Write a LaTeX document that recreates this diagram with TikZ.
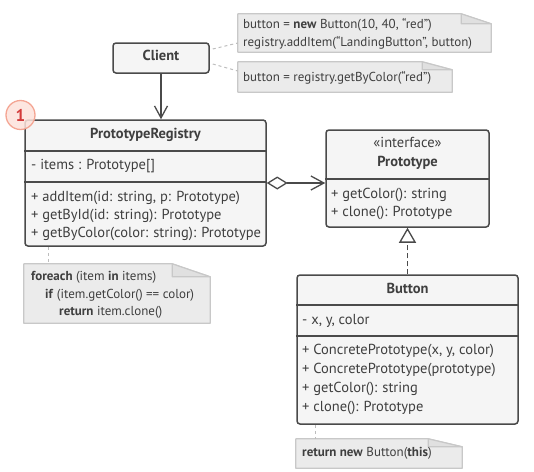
\documentclass[tikz,border=0pt]{standalone}
\usepackage{fontspec}
\setmainfont{PT Sans}
\usetikzlibrary{arrows.meta,calc}
\definecolor{boxfill}{HTML}{F5F5F5}
\definecolor{boxdraw}{HTML}{4A4A4A}
\definecolor{notefill}{HTML}{EBEBEB}
\definecolor{notedraw}{HTML}{C8C8C8}
\definecolor{foldfill}{HTML}{E0E0E0}
\definecolor{txt}{HTML}{3F3F3F}
\definecolor{linkc}{HTML}{BDBDBD}
\definecolor{badgefill}{HTML}{FDE2DA}
\definecolor{badgedraw}{HTML}{F4A593}
\definecolor{badgetext}{HTML}{D33A3A}
\newcommand\drawnote[3]{%
  \fill[notefill] (#1.north west) -- ($(#1.north east)+(-#2,0)$) -- ($(#1.north east)+(0,#3)$) -- (#1.south east) -- (#1.south west) -- cycle;
  \draw[notedraw,line width=1.2pt,line join=round] (#1.north west) -- ($(#1.north east)+(-#2,0)$) -- ($(#1.north east)+(0,#3)$) -- (#1.south east) -- (#1.south west) -- cycle;
  \filldraw[fill=foldfill,draw=notedraw,line width=1.2pt,line join=round] ($(#1.north east)+(-#2,0)$) -- ($(#1.north east)+(-#2,#3)$) -- ($(#1.north east)+(0,#3)$) -- cycle;
}
\begin{document}
\begin{tikzpicture}[x=1pt,y=-1pt,
  classbox/.style={rectangle,rounded corners=3pt,draw=boxdraw,fill=boxfill,line width=1.5pt,inner sep=0pt},
  divider/.style={draw=boxdraw,line width=1.5pt},
  ctext/.style={inner sep=0pt,anchor=mid west,text=txt,font=\fontsize{14.5}{17}\selectfont},
  ctitle/.style={inner sep=0pt,anchor=mid,text=txt,font=\fontsize{14.5}{17}\selectfont\bfseries},
  ntext/.style={inner sep=0pt,anchor=mid west,text=txt,font=\fontsize{13}{15}\selectfont},
  notebox/.style={rectangle,inner sep=0pt},
  notelink/.style={draw=linkc,line width=1pt,dash pattern=on 3pt off 3pt},
  assoc/.style={draw=boxdraw,line width=1.3pt,-{Straight Barb[length=12pt,width=13pt,line width=1.3pt]}},
  aggr/.style={draw=boxdraw,line width=1.3pt,{Diamond[open,length=21pt,width=13pt,line width=1.3pt]}-{Straight Barb[length=13pt,width=14pt,line width=1.3pt]}},
  realize/.style={draw=boxdraw,line width=1.3pt,dash pattern=on 5pt off 3pt,-{Triangle[open,length=15pt,width=17pt,line width=1.3pt]}}
]
\useasboundingbox (0,0) rectangle (534,471);

% notes
\node[notebox,minimum width=253pt,minimum height=38pt] (n1) at (364.5,33) {};
\node[notebox,minimum width=214pt,minimum height=30pt] (n2) at (345,77) {};
\node[notebox,minimum width=186pt,minimum height=59pt] (n3) at (117,293.5) {};
\node[notebox,minimum width=166pt,minimum height=29pt] (n4) at (379,453.5) {};
\drawnote{n1}{30}{10}
\drawnote{n2}{30}{8}
\drawnote{n3}{38}{13}
\drawnote{n4}{34}{8}

\node[ntext] (n1a) at (243,25.5) {button = \textbf{new} Button(10, 40, “red”)};
\node[ntext] (n1b) at (243,43.5) {registry.addItem(“LandingButton”, button)};
\node[ntext] (n2a) at (243,78.5) {button = registry.getByColor(“red”)};
\node[ntext] (n3a) at (31,278) {\textbf{foreach} (item \textbf{in} items)};
\node[ntext] (n3b) at (45,296) {\textbf{if} (item.getColor() == color)};
\node[ntext] (n3c) at (59,313) {\textbf{return} item.clone()};
\node[ntext] (n4a) at (302,454) {\textbf{return new} Button(\textbf{this})};

% classes
\node[classbox,minimum width=96pt,minimum height=30pt] (client) at (161,58) {};
\node[ctitle] (clientt) at (client) {Client};

\node[classbox,minimum width=241pt,minimum height=126pt] (reg) at (145.5,183) {};
\draw[divider] (reg.west |- 0,151) -- (reg.east |- 0,151);
\draw[divider] (reg.west |- 0,182) -- (reg.east |- 0,182);
\node[ctitle] (regt) at (145.5,136) {PrototypeRegistry};
\node[ctext] (rega) at (31,167) {- items : Prototype[]};
\node[ctext] (regm1) at (31,199) {+ addItem(id: string, p: Prototype)};
\node[ctext] (regm2) at (31,217) {+ getById(id: string): Prototype};
\node[ctext] (regm3) at (31,235) {+ getByColor(color: string): Prototype};

\node[classbox,minimum width=163pt,minimum height=97pt] (proto) at (407.5,178.5) {};
\draw[divider] (proto.west |- 0,179) -- (proto.east |- 0,179);
\node[inner sep=0pt,anchor=mid,text=txt,font=\fontsize{14.5}{17}\selectfont] (protos) at (407.5,145) {«interface»};
\node[ctitle] (protot) at (407.5,164) {Prototype};
\node[ctext] (protom1) at (331,196) {+ getColor(): string};
\node[ctext] (protom2) at (331,214) {+ clone(): Prototype};

\node[classbox,minimum width=221pt,minimum height=149pt] (button) at (407.5,349.5) {};
\draw[divider] (button.west |- 0,305) -- (button.east |- 0,305);
\draw[divider] (button.west |- 0,336) -- (button.east |- 0,336);
\node[ctitle] (buttont) at (407.5,291) {Button};
\node[ctext] (buttona) at (302,322) {- x, y, color};
\node[ctext] (buttonm1) at (302,352) {+ ConcretePrototype(x, y, color)};
\node[ctext] (buttonm2) at (302,371) {+ ConcretePrototype(prototype)};
\node[ctext] (buttonm3) at (302,390) {+ getColor(): string};
\node[ctext] (buttonm4) at (302,409) {+ clone(): Prototype};

% badge
\node[circle,minimum size=29pt,inner sep=0pt,fill=badgefill,fill opacity=0.85,draw=badgedraw,line width=1.3pt,text opacity=1,text=badgetext,font=\fontsize{17}{17}\selectfont\bfseries] (badge) at (20.5,115) {1};

% connectors
\draw[assoc] (client.south) -- (client.south |- reg.north);
\draw[aggr] (reg.east) -- (reg.east -| proto.west);
\draw[realize] (button.north) -- (proto.south);
\draw[notelink] ($(client.east)+(3,-9)$) -- ($(n1.west)+(0,10)$);
\draw[notelink] ($(client.east)+(3,6)$) -- ($(n2.west)+(0,-6)$);
\coordinate (c3) at ($(n3.north west)+(25,0)$);
\draw[notelink] (c3 |- reg.south) -- (c3);
\coordinate (c4) at ($(n4.north west)+(20,0)$);
\draw[notelink] (c4 |- button.south) -- (c4);
\end{tikzpicture}
\end{document}
